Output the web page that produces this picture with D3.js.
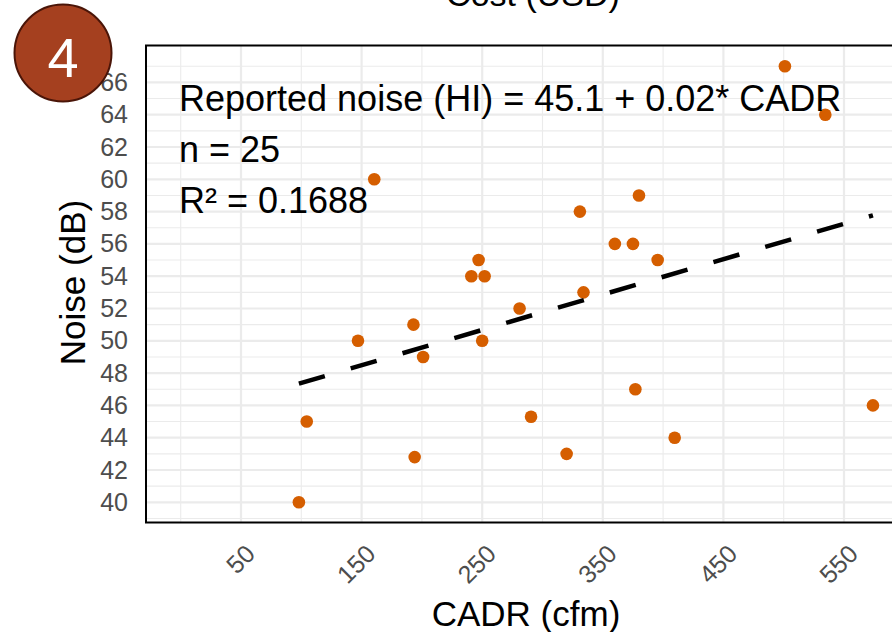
<!DOCTYPE html>
<html>
<head>
<meta charset="utf-8">
<script src="https://cdn.jsdelivr.net/npm/d3@7/dist/d3.min.js"></script>
<style>
  html, body { margin: 0; padding: 0; background: #fff; }
  svg { display: block; font-family: "Liberation Sans", Arial, sans-serif; }
</style>
</head>
<body>
<svg id="chart" width="892" height="632"></svg>
<script>
// ---- data ----
const cadr  = [98, 104.5, 147, 160.5, 193, 194, 201, 241, 247, 252, 250, 281, 290.5, 320, 331, 334, 360, 375, 377, 380, 395.5, 409.6, 501, 534.5, 574];
const noise = [40, 45, 50, 60, 51, 42.8, 49, 54, 55, 54, 50, 52, 45.3, 43, 58, 53, 56, 56, 47, 59, 55, 44, 67, 64, 46];
const fitIntercept = 45.2;
const fitSlope = 0.0219;
const xTickLabels = [50, 150, 250, 350, 450, 550];
const xMinorGrid = [0, 100, 200, 300, 400, 500, 600];
const yTickLabels = [40, 42, 44, 46, 48, 50, 52, 54, 56, 58, 60, 62, 64, 66];
const yMinorGrid = [39, 41, 43, 45, 47, 49, 51, 53, 55, 57, 59, 61, 63, 65, 67];
const annotation = ["Reported noise (HI) = 45.1 + 0.02* CADR", "n = 25", "R\u00B2 = 0.1688"];
const titleText = "Cost (USD)";
const xTitle = "CADR (cfm)";
const yTitle = "Noise (dB)";
const badgeText = "4";

// ---- layout ----
const svg = d3.select("#chart");
const panel = { left: 146, top: 45.5, right: 905, bottom: 522.5 };

const x = d3.scaleLinear().domain([50, 550]).range([241, 844]);
const y = d3.scaleLinear().domain([40, 66]).range([502.3, 82.4]);

svg.append("rect").attr("width", 892).attr("height", 632).attr("fill", "#fff");

svg.append("defs").append("clipPath").attr("id", "clip")
  .append("rect")
  .attr("x", panel.left).attr("y", panel.top)
  .attr("width", panel.right - panel.left).attr("height", panel.bottom - panel.top);

const g = svg.append("g").attr("clip-path", "url(#clip)");

// grid
g.selectAll(".ymin").data(yMinorGrid).join("line")
  .attr("x1", panel.left).attr("x2", panel.right)
  .attr("y1", d => y(d)).attr("y2", d => y(d))
  .attr("stroke", "#ebebeb").attr("stroke-width", 1.1);
g.selectAll(".xmin").data(xMinorGrid).join("line")
  .attr("y1", panel.top).attr("y2", panel.bottom)
  .attr("x1", d => x(d)).attr("x2", d => x(d))
  .attr("stroke", "#ebebeb").attr("stroke-width", 1.1);
g.selectAll(".ymaj").data(yTickLabels).join("line")
  .attr("x1", panel.left).attr("x2", panel.right)
  .attr("y1", d => y(d)).attr("y2", d => y(d))
  .attr("stroke", "#ebebeb").attr("stroke-width", 2.2);
g.selectAll(".xmaj").data(xTickLabels).join("line")
  .attr("y1", panel.top).attr("y2", panel.bottom)
  .attr("x1", d => x(d)).attr("x2", d => x(d))
  .attr("stroke", "#ebebeb").attr("stroke-width", 2.2);

// points
const pts = cadr.map((c, i) => ({ c, n: noise[i] }));
g.selectAll("circle.pt").data(pts).join("circle")
  .attr("class", "pt")
  .attr("cx", d => x(d.c)).attr("cy", d => y(d.n))
  .attr("r", 6.3).attr("fill", "#D55E00");

// regression line
const ext = d3.extent(cadr);
const fitPts = ext.map(c => [c, fitIntercept + fitSlope * c]);
g.append("path")
  .attr("d", d3.line().x(d => x(d[0])).y(d => y(d[1]))(fitPts))
  .attr("fill", "none").attr("stroke", "#000").attr("stroke-width", 4.5)
  .attr("stroke-dasharray", "27,27");

// annotation
const ann = svg.append("g");
ann.selectAll("text").data(annotation).join("text")
  .attr("x", 179).attr("y", (d, i) => 110.7 + i * 51.3)
  .attr("font-size", 36).attr("fill", "#000").text(d => d);

// panel border
svg.append("rect")
  .attr("x", panel.left).attr("y", panel.top)
  .attr("width", panel.right - panel.left).attr("height", panel.bottom - panel.top)
  .attr("fill", "none").attr("stroke", "#000").attr("stroke-width", 2);

// y axis
const yAxis = svg.append("g").attr("transform", `translate(${panel.left},0)`)
  .call(d3.axisLeft(y).tickValues(yTickLabels).tickSize(0).tickPadding(18));
yAxis.select(".domain").remove();
yAxis.selectAll("text").attr("font-size", 25).attr("fill", "#4d4d4d")
  .attr("font-family", "Liberation Sans, Arial, sans-serif");

// x axis (rotated labels)
const xAxis = svg.append("g").attr("transform", `translate(0,${panel.bottom})`)
  .call(d3.axisBottom(x).tickValues(xTickLabels).tickSize(0).tickPadding(0));
xAxis.select(".domain").remove();
xAxis.selectAll("text")
  .attr("font-size", 25).attr("fill", "#4d4d4d")
  .attr("font-family", "Liberation Sans, Arial, sans-serif")
  .attr("text-anchor", "end").attr("dy", 0).attr("y", 0)
  .attr("transform", "translate(15,33) rotate(-45)");

// axis titles
svg.append("text").attr("x", 526).attr("y", 626)
  .attr("text-anchor", "middle").attr("font-size", 35).attr("fill", "#000").text(xTitle);
svg.append("text").attr("transform", "translate(85,282.5) rotate(-90)")
  .attr("text-anchor", "middle").attr("font-size", 35).attr("fill", "#000").text(yTitle);

// title (cropped at the top, as in the reference)
svg.append("text").attr("x", 533).attr("y", 6)
  .attr("text-anchor", "middle").attr("font-size", 34).attr("fill", "#000").text(titleText);

// badge
svg.append("circle").attr("cx", 63).attr("cy", 53).attr("r", 48.5)
  .attr("fill", "#A5401F").attr("stroke", "#4a1508").attr("stroke-width", 2);
svg.append("text").attr("x", 63).attr("y", 77)
  .attr("text-anchor", "middle").attr("font-size", 56).attr("fill", "#fff").text(badgeText);
</script>
</body>
</html>
